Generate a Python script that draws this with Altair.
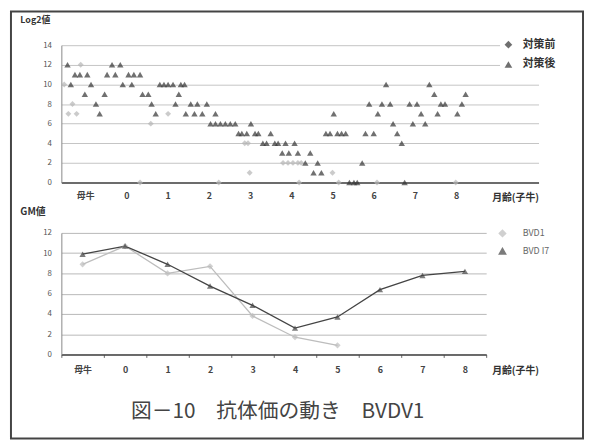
import altair as alt
import pandas as pd

# ---------- top panel : Log2値 of each calf (x = month position, 母牛 = -1) ----------
post_m = [-1.43, -1.25, -1.13, -0.95, -0.47, -0.27, -0.35, -0.15, 0.05, 0.18, 0.33,
          -1.35, -0.86, -0.09, 0.13, 0.81, 0.91, 1.01, 1.13, 1.32, 1.41,
          -1.01, -0.53, 0.39, 0.53, 1.27,
          -0.74, 0.61, 1.19, 1.56, 1.72, 1.95,
          -0.65, 0.71, 1.44, 1.65, 1.84, 2.16,
          2.04, 2.16, 2.28, 2.40, 2.52, 2.64, 3.02,
          2.72, 2.80, 2.92, 3.12, 3.20, 3.50,
          3.31, 3.40, 3.60, 3.68, 3.86, 4.08,
          3.78, 3.94, 4.16, 4.46,
          4.34, 4.64, 5.72,
          4.54, 4.73,
          5.41, 5.52, 5.60, 6.75,
          4.84, 4.94, 5.12, 5.22, 5.32, 5.80, 6.00, 6.57,
          6.47, 6.95, 7.25,
          5.03, 6.10, 7.15, 7.55, 8.03,
          5.89, 6.20, 6.40, 6.87, 7.05, 7.63, 7.73, 8.14,
          7.47, 8.23,
          6.30, 7.35,
          6.68]
post_v = [12, 11, 11, 11, 11, 11, 12, 12, 11, 11, 11,
          10, 10, 10, 10, 10, 10, 10, 10, 10, 10,
          9, 9, 9, 9, 9,
          8, 8, 8, 8, 8, 8,
          7, 7, 7, 7, 7, 7,
          6, 6, 6, 6, 6, 6, 6,
          5, 5, 5, 5, 5, 5,
          4, 4, 4, 4, 4, 4,
          3, 3, 3, 3,
          2, 2, 2,
          1, 1,
          0, 0, 0, 0,
          5, 5, 5, 5, 5, 5, 5, 5,
          6, 6, 6,
          7, 7, 7, 7, 7,
          8, 8, 8, 8, 8, 8, 8, 8,
          9, 9,
          10, 10,
          4]

pre_m = [-1.11, -1.51, -1.31, -1.41, -1.21, 1.01, 0.59, 2.87, 2.95, 2.99,
         3.80, 3.92, 4.04, 4.16, 4.24, 5.00, 0.33, 2.24, 4.19, 5.15, 6.08, 7.99]
pre_v = [12, 10, 8, 7, 7, 7, 6, 4, 4, 1,
         2, 2, 2, 2, 2, 1, 0, 0, 0, 0, 0, 0]

top_ticks = [-1, 0, 1, 2, 3, 4, 5, 6, 7, 8]
groups = ["対策前", "対策後"]

# ---------- bottom panel : GM値 ----------
cats = ["母牛", "0", "1", "2", "3", "4", "5", "6", "7", "8"]
gm_post = [9.9, 10.7, 8.9, 6.75, 4.85, 2.6, 3.7, 6.4, 7.8, 8.2]
gm_pre = [8.9, 10.7, 8.0, 8.7, 3.8, 1.7, 0.9]
series = ["BVD1", "BVD I7"]

FONT = "Noto Sans CJK JP"

df_pre = pd.DataFrame({"m": pre_m, "v": pre_v, "g": groups[0]})
df_post = pd.DataFrame({"m": post_m, "v": post_v, "g": groups[1]})

x_top = alt.X("m:Q", scale=alt.Scale(domain=[-1.58, 10], nice=False, zero=False),
              axis=alt.Axis(values=top_ticks,
                            labelExpr="datum.value == -1 ? '母牛' : datum.label",
                            grid=False, ticks=False, domainColor="#444", domainWidth=1.5,
                            labelFontSize=9, labelFontWeight="bold", labelColor="#444",
                            labelPadding=9, title="月齢(子牛)", titleX=483, titleY=15,
                            titleAlign="right", titleBaseline="middle", titleFontSize=10,
                            titleFontWeight="bold", titleColor="#333"))
y_top = alt.Y("v:Q", scale=alt.Scale(domain=[0, 14], nice=False),
              axis=alt.Axis(values=list(range(0, 15, 2)), grid=True, gridColor="#c4c4c4",
                            domainColor="#888", ticks=False, labelFontSize=8,
                            labelColor="#555", labelPadding=10, title="Log2値",
                            titleAngle=0, titleX=-42, titleY=-26, titleAlign="left",
                            titleBaseline="middle", titleFontSize=9, titleFontWeight="bold",
                            titleColor="#333"))

pre_pts = alt.Chart(df_pre).mark_point(filled=True, size=36, color="#b5b5b5",
                                       shape="diamond").encode(x=x_top, y=y_top)
post_pts = alt.Chart(df_post).mark_point(filled=True, size=42, color="#333333").encode(
    x=x_top, y=y_top,
    shape=alt.Shape("g:N", scale=alt.Scale(domain=groups, range=["diamond", "triangle-up"]),
                    legend=alt.Legend(title=None, orient="none", legendX=444, legendY=-9,
                                      labelFontSize=11, labelFontWeight="bold",
                                      labelColor="#333", symbolSize=60, rowPadding=6,
                                      fillColor="white", padding=3, labelOffset=9)),
)

border = alt.Chart(pd.DataFrame({"k": [0]})).mark_rect(
    fillOpacity=0, stroke="#444", strokeWidth=2
).encode(x=alt.value(-51), x2=alt.value(528), y=alt.value(-34), y2=alt.value(398))

top = alt.layer(border, pre_pts, post_pts).properties(width=483, height=139)

# bottom
df_gm = pd.concat([
    pd.DataFrame({"c": cats[:len(gm_pre)], "val": gm_pre, "s": series[0]}),
    pd.DataFrame({"c": cats, "val": gm_post, "s": series[1]}),
])

x_bot = alt.X("c:N", sort=cats, scale=alt.Scale(type="band", paddingInner=0, paddingOuter=0),
              axis=alt.Axis(labelAngle=0, tickBand="extent", tickSize=3, tickColor="#666",
                            domainColor="#444", domainWidth=1.5, labelFontSize=9,
                            labelFontWeight="bold", labelColor="#444", labelPadding=8,
                            title="月齢(子牛)", titleX=483, titleY=16, titleAlign="right",
                            titleBaseline="middle", titleFontSize=10, titleFontWeight="bold",
                            titleColor="#333"))
y_bot = alt.Y("val:Q", scale=alt.Scale(domain=[0, 12], nice=False),
              axis=alt.Axis(values=list(range(0, 13, 2)), grid=True, gridColor="#b8b8b8",
                            domainColor="#888", ticks=False, labelFontSize=8,
                            labelColor="#555", labelPadding=10, title="GM値",
                            titleAngle=0, titleX=-42, titleY=-22, titleAlign="left",
                            titleBaseline="middle", titleFontSize=10, titleFontWeight="bold",
                            titleColor="#333"))
col = alt.Color("s:N", scale=alt.Scale(domain=series, range=["#bdbdbd", "#444444"]),
                legend=alt.Legend(title=None, orient="none", legendX=440, legendY=-6,
                                  labelFontSize=9, labelColor="#666", symbolSize=40,
                                  rowPadding=5, padding=2, labelOffset=16))
shp = alt.Shape("s:N", scale=alt.Scale(domain=series, range=["diamond", "triangle-up"]))

base = alt.Chart(df_gm)
lines = base.mark_line(strokeWidth=1.3).encode(x=x_bot, y=y_bot, color=col, detail="s:N")
pts = base.mark_point(filled=True, size=40).encode(x=x_bot, y=y_bot, color=col, shape=shp)

bottom = alt.layer(lines, pts).properties(
    width=430, height=123,
    title=alt.TitleParams("図－10　抗体価の動き　BVDV1", orient="bottom", anchor="middle",
                          fontSize=21, font=FONT, fontWeight="normal", color="#444",
                          dx=4, offset=26),
)

chart = alt.vconcat(top, bottom, spacing=51, bounds="flush").resolve_scale(
    shape="independent", color="independent"
).resolve_legend(shape="independent", color="independent").properties(
    padding={"left": 2, "top": 0, "right": 0, "bottom": 0},
    background="white",
).configure(font=FONT).configure_view(stroke=None)

chart.save("out.html", embed_options={"renderer": "svg", "actions": False})
